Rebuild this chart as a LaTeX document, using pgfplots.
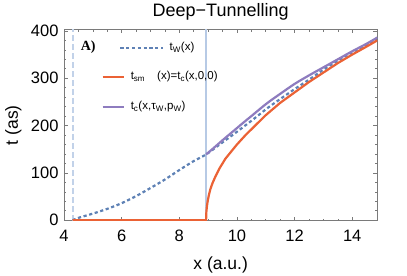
\documentclass[border=0pt]{standalone}
\usepackage{fontspec}
\setmainfont{Liberation Sans}
\newfontfamily\serifb{Liberation Serif}
\usepackage{pgfplots}
\pgfplotsset{compat=1.18}
\definecolor{mblue}{HTML}{5E81B5}
\definecolor{morange}{HTML}{EB6235}
\definecolor{mpurple}{HTML}{8E7CBF}
\definecolor{lblue}{HTML}{B7CAE5}
\definecolor{fgray}{HTML}{7A7A7A}
\begin{document}
\fontsize{16bp}{19bp}\selectfont
\begin{tikzpicture}
\useasboundingbox (-64bp,-55.3bp) rectangle (343bp,220.7bp);
\begin{axis}[
  at={(0,0)}, anchor=south west,
  scale only axis, width=313.3bp, height=191.2bp,
  xmin=4, xmax=14.87, ymin=-1, ymax=403,
  xtick={4,6,...,14}, minor x tick num=3,
  ytick={0,100,...,400}, minor y tick num=4,
  tick pos=both, tick align=inside,
  major tick length=4bp, minor tick length=2.2bp,
  axis line style={fgray, line width=0.7bp},
  every tick/.style={fgray, line width=0.6bp},
  /pgf/number format/assume math mode=true,
  ticklabel style={font=\fontsize{16.5bp}{19bp}\selectfont},
  xticklabel style={yshift=-3.5bp},
  title={Deep−Tunnelling},
  title style={at={(0.5,1)}, anchor=base, yshift=6.8bp, font=\fontsize{18bp}{21bp}\selectfont},
  xlabel={x (a.u.)},
  xlabel style={at={(0.5,0)}, anchor=base, yshift=-49bp, font=\fontsize{17.5bp}{21bp}\selectfont},
  ylabel={t (as)},
  ylabel style={at={(0,0.5)}, anchor=base, yshift=46bp, font=\fontsize{17.5bp}{21bp}\selectfont},
  clip=true,
]
% vertical reference lines
\addplot[lblue!85!white, line width=2bp, dash pattern=on 6bp off 3bp] coordinates {(4.30,-1) (4.30,403)};
\addplot[lblue, line width=2.4bp] coordinates {(8.93,-1) (8.93,403)};
% t_W(x) dotted
\addplot[mblue, line width=2.2bp, dash pattern=on 3.2bp off 2.6bp, smooth] coordinates {
(4.30,0) (4.5,5) (5.0,14) (5.5,24) (6.0,36) (6.5,51) (7.0,68) (7.5,86) (8.0,106) (8.5,125)
(8.93,139) (9.4,160) (9.87,181) (10.5,210) (11.04,236) (11.5,256) (12.0,277) (12.5,297)
(13.0,318) (13.5,337) (14.0,355) (14.5,371) (14.87,384)};
% t_c(x,tauW,pW) purple
\addplot[mpurple, line width=2.2bp, smooth] coordinates {
(8.93,139) (9.2,153) (9.5,169) (9.87,188) (10.2,205) (10.5,220) (11.04,247) (11.5,267)
(12.0,288) (12.5,306) (13.0,323) (13.5,340) (14.0,357) (14.5,373) (14.87,386)};
% t_sm orange
\addplot[morange, line width=2.2bp] coordinates {
(4.30,0) (8.93,0) (8.935,10) (8.94,18) (8.96,30) (8.99,42) (9.03,54) (9.08,66) (9.15,78)
(9.25,92) (9.4,110) (9.6,130) (9.8,145) (10.0,160) (10.3,180) (10.6,198) (11.0,222)
(11.5,248) (12.0,270) (12.5,292) (13.0,312) (13.5,332) (14.0,350) (14.5,367) (14.87,380)};
% legend
\node at (axis cs:4.84,366) {\fontsize{14bp}{16bp}\selectfont\serifb\bfseries A)};
\draw[mblue, line width=2.2bp, dash pattern=on 3.2bp off 2.6bp] (axis cs:5.96,364) -- (axis cs:7.42,364);
\node[anchor=west, inner sep=0pt] at (axis cs:7.66,364) {\fontsize{11.5bp}{13bp}\selectfont t\textsubscript{W}(x)};
\draw[morange, line width=2.2bp] (axis cs:5.34,303) -- (axis cs:6.07,303);
\node[anchor=west, inner sep=0pt] at (axis cs:6.31,303) {\fontsize{11.5bp}{13bp}\selectfont t\textsubscript{sm}\hspace{12bp}(x)=t\textsubscript{c}(x,0,0)};
\draw[mpurple, line width=2.2bp] (axis cs:5.34,240) -- (axis cs:6.07,240);
\node[anchor=west, inner sep=0pt] at (axis cs:6.31,240) {\fontsize{11.5bp}{13bp}\selectfont t\textsubscript{c}(x,τ\textsubscript{W},p\textsubscript{W})};
\end{axis}
\end{tikzpicture}
\end{document}
